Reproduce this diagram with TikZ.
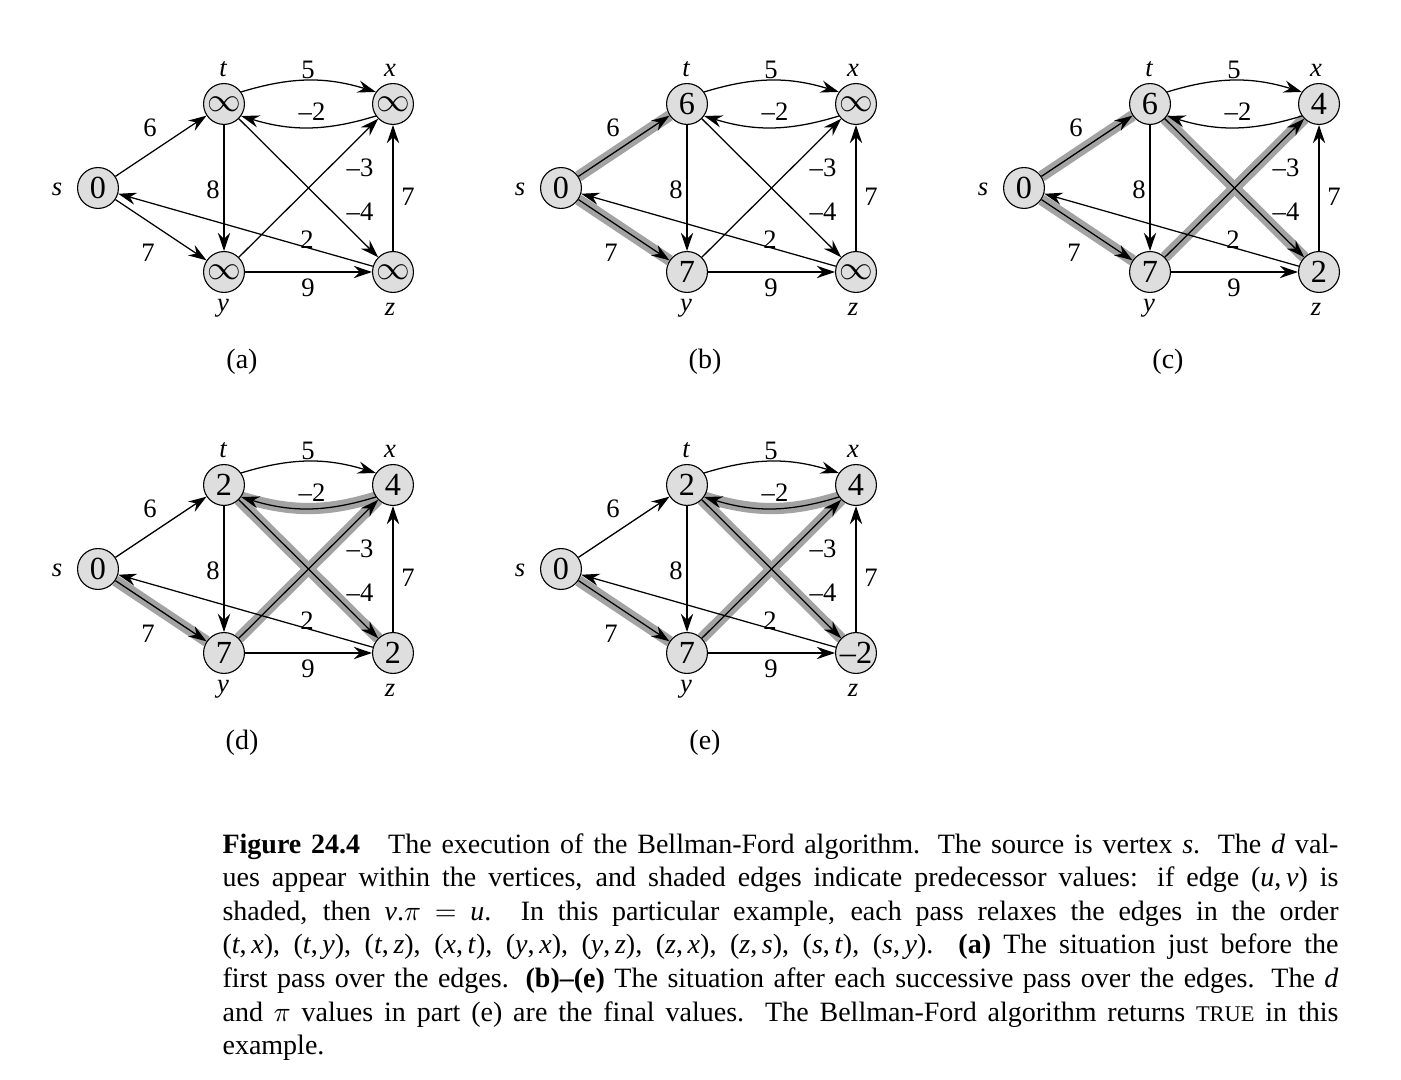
\documentclass[tikz,border=0pt]{standalone}
\usepackage{fontspec}
\setmainfont{Liberation Serif}
\usetikzlibrary{arrows.meta, backgrounds}

\tikzset{
	vert/.style={circle, draw=black, line width=0.4pt, fill=black!13, minimum size=14.6pt, inner sep=0pt, font=\fontsize{11.5}{13}\selectfont},
	vname/.style={inner sep=0pt, font=\fontsize{9.5}{11}\selectfont\itshape},
	weight/.style={inner sep=0pt, font=\fontsize{9.5}{11}\selectfont},
	sublabel/.style={inner sep=0pt, font=\fontsize{10}{12}\selectfont},
	edge/.style={line width=0.45pt, -{Stealth[length=6.5pt, width=4.4pt, inset=2.2pt]}},
	pred/.style={line width=4pt, draw=black!36},
	upper arc/.style={out=17, in=163},
	low arc/.style={out=-163, in=-17},
	direct/.style={},
	caption/.style={inner sep=0pt, text width=398.4pt, align=justify, font=\fontsize{10}{12}\selectfont},
}

% one pass: #1 name, #2/#3 shift, #4..#8 d values of s,t,x,y,z, #9 shaded edges
\newcommand{\bfpass}[9]{%
	\begin{scope}[shift={(#2,-#3)}]
		% Vertices with their d values
		\node[vert] (#1-s) at (98,-188) {#4};
		\node[vert] (#1-t) at (224,-104) {#5};
		\node[vert] (#1-x) at (393,-104) {#6};
		\node[vert] (#1-y) at (224,-272) {#7};
		\node[vert] (#1-z) at (393,-272) {#8};
		\node[vname] (#1-sname) at (57,-189) {s};
		\node[vname] (#1-tname) at (223,-69) {t};
		\node[vname] (#1-xname) at (390,-70) {x};
		\node[vname] (#1-yname) at (223,-308) {y};
		\node[vname] (#1-zname) at (390,-309) {z};

		% Shaded predecessor edges behind the rest
		\if\relax\detokenize{#9}\relax\else
		\begin{scope}[on background layer]
			\foreach \u/\v/\how in {#9} {
				\draw[pred] (#1-\u) to[\how] (#1-\v);
			}
		\end{scope}
		\fi

		% Weighted edges
		\draw[edge] (#1-t.35) to[upper arc] (#1-x.145);
		\draw[edge] (#1-x.-145) to[low arc] (#1-t.-35);
		\draw[edge] (#1-s) -- (#1-t);
		\draw[edge] (#1-s) -- (#1-y);
		\draw[edge] (#1-t) -- (#1-y);
		\draw[edge] (#1-t) -- (#1-z);
		\draw[edge] (#1-y) -- (#1-x);
		\draw[edge] (#1-z) -- (#1-x);
		\draw[edge] (#1-y) -- (#1-z);
		\draw[edge] (#1-z) -- (#1-s);

		% Weights
		\node[weight] (#1-wtx) at (308,-70) {5};
		\node[weight] (#1-wxt) at (312,-112) {\textendash2};
		\node[weight] (#1-wst) at (150,-128) {6};
		\node[weight] (#1-wty) at (213,-190) {8};
		\node[weight] (#1-wyx) at (360,-168) {\textendash3};
		\node[weight] (#1-wtz) at (360,-212) {\textendash4};
		\node[weight] (#1-wzx) at (408,-197) {7};
		\node[weight] (#1-wzs) at (307,-240) {2};
		\node[weight] (#1-wsy) at (148,-253) {7};
		\node[weight] (#1-wyz) at (308,-288) {9};

		\node[sublabel] (#1-label) at (242,-362) {(#1)};
	\end{scope}}

\begin{document}
\begin{tikzpicture}[x=0.357pt, y=0.357pt]
	\useasboundingbox (0,0) rectangle (1401,-1080);

	\bfpass{a}{0}{0}{0}{$\infty$}{$\infty$}{$\infty$}{$\infty$}{}
	\bfpass{b}{463}{0}{0}{6}{$\infty$}{7}{$\infty$}{s/t/direct, s/y/direct}
	\bfpass{c}{926}{0}{0}{6}{4}{7}{2}{s/t/direct, s/y/direct, y/x/direct, t/z/direct}
	\bfpass{d}{0}{381}{0}{2}{4}{7}{2}{s/y/direct, x.-145/t.-35/low arc, y/x/direct, t/z/direct}
	\bfpass{e}{463}{381}{0}{2}{4}{7}{\textendash2}{s/y/direct, x.-145/t.-35/low arc, y/x/direct, t/z/direct}

	% Caption
	\node[caption, anchor=north west] (fig-caption) at (222,-829) {\strut\textbf{Figure 24.4}\quad The execution of the Bellman-Ford algorithm.  The source is vertex \textit{s}.  The \textit{d} val-\linebreak ues appear within the vertices, and shaded edges indicate predecessor values: if edge (\textit{u},\,\textit{v}) is\linebreak shaded, then \textit{v}.$\pi$ $=$ \textit{u}.  In this particular example, each pass relaxes the edges in the order\linebreak (\textit{t},\,\textit{x}), (\textit{t},\,\textit{y}), (\textit{t},\,\textit{z}), (\textit{x},\,\textit{t}), (\textit{y},\,\textit{x}), (\textit{y},\,\textit{z}), (\textit{z},\,\textit{x}), (\textit{z},\,\textit{s}), (\textit{s},\,\textit{t}), (\textit{s},\,\textit{y}).  \textbf{(a)} The situation just before the\linebreak first pass over the edges.  \textbf{(b)\textendash(e)} The situation after each successive pass over the edges.  The \textit{d}\linebreak and $\pi$ values in part (e) are the final values.  The Bellman-Ford algorithm returns {\fontsize{8}{12}\selectfont TRUE} in this\linebreak example.};
\end{tikzpicture}
\end{document}
